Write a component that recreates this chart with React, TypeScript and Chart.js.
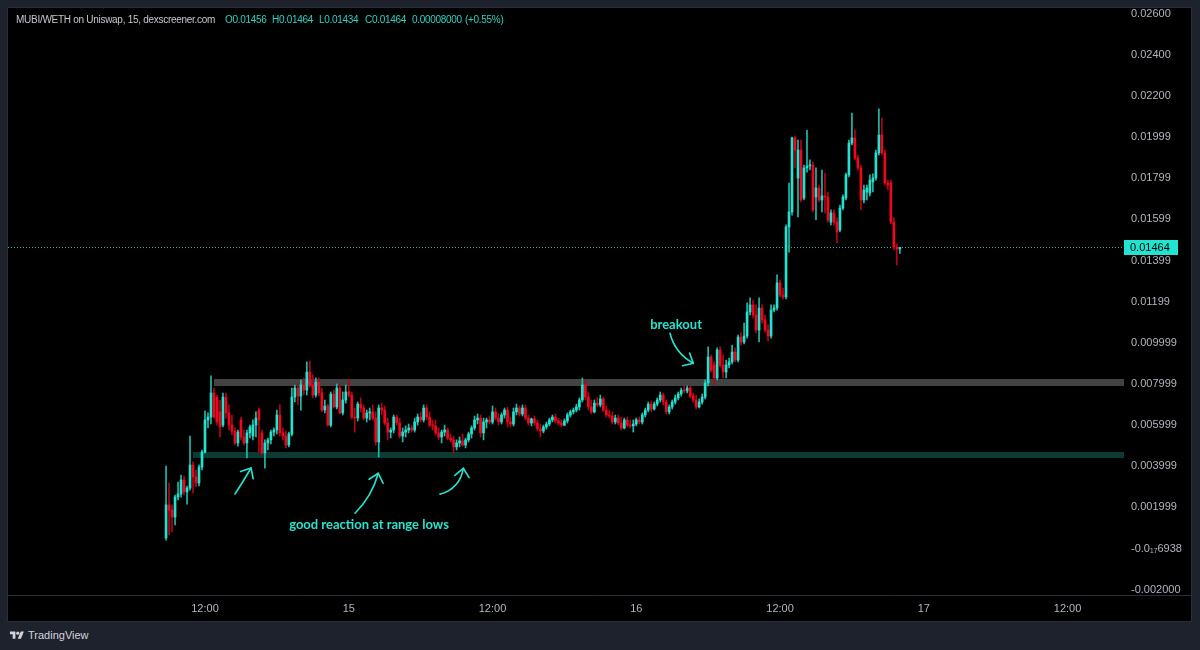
import React, { useEffect, useRef } from "react";
import { Chart, registerables } from "chart.js";
Chart.register(...registerables);

// ---- data ----
const startHour = 8.75; // first 15-minute candle, hours since day 14 00:00
const intervalHours = 0.25;

const opens = [
  0.00051, 0.00212, 0.00187, 0.00153, 0.0025, 0.00265, 0.00333, 0.00275, 0.00294, 0.00406,
  0.00348, 0.00318, 0.00396, 0.00469, 0.00625, 0.00639, 0.00756, 0.00736, 0.00664, 0.006,
  0.00736, 0.00659, 0.006, 0.00571, 0.00513, 0.00625, 0.00542, 0.00513, 0.00562, 0.00547,
  0.006, 0.00673, 0.00562, 0.00464, 0.00513, 0.00528, 0.00566, 0.00576, 0.00649, 0.00562,
  0.00547, 0.00503, 0.00557, 0.00736, 0.0078, 0.00741, 0.00795, 0.0077, 0.00858, 0.00795,
  0.00746, 0.00809, 0.00756, 0.00673, 0.00693, 0.006, 0.00751, 0.00688, 0.0078, 0.00659,
  0.00722, 0.00761, 0.00746, 0.00639, 0.00634, 0.00702, 0.00683, 0.00634, 0.00659, 0.00664,
  0.00634, 0.00518, 0.00683, 0.00673, 0.0061, 0.00566, 0.00576, 0.00639, 0.0061, 0.00547,
  0.00566, 0.00576, 0.00586, 0.00576, 0.00615, 0.00639, 0.00625, 0.00683, 0.00639, 0.006,
  0.00596, 0.00562, 0.00542, 0.00566, 0.00576, 0.00537, 0.00528, 0.00494, 0.00513, 0.00523,
  0.00503, 0.00528, 0.00557, 0.00586, 0.00625, 0.00634, 0.00562, 0.00615, 0.00625, 0.00615,
  0.00664, 0.00634, 0.00615, 0.00649, 0.00673, 0.00615, 0.00605, 0.00664, 0.00683, 0.00654,
  0.00683, 0.00634, 0.0061, 0.0063, 0.0061, 0.00581, 0.00571, 0.00591, 0.00605, 0.00625,
  0.00639, 0.0062, 0.0061, 0.006, 0.0062, 0.00649, 0.00664, 0.00673, 0.00688, 0.00722,
  0.00795, 0.00736, 0.00688, 0.00664, 0.00707, 0.00698, 0.00727, 0.00673, 0.00649, 0.00644,
  0.00615, 0.00634, 0.0061, 0.00586, 0.00625, 0.006, 0.00596, 0.00605, 0.00625, 0.00615,
  0.00649, 0.00673, 0.00702, 0.00678, 0.00702, 0.00722, 0.00746, 0.00712, 0.00664, 0.00688,
  0.00712, 0.00732, 0.00751, 0.0077, 0.00766, 0.0078, 0.00741, 0.00722, 0.00688, 0.00712,
  0.00736, 0.00805, 0.00931, 0.00892, 0.00829, 0.00965, 0.00892, 0.00858, 0.00892, 0.00907,
  0.00955, 0.00916, 0.01028, 0.01004, 0.01033, 0.0115, 0.01184, 0.01135, 0.01062, 0.01169,
  0.01111, 0.01062, 0.01033, 0.01159, 0.01169, 0.01291, 0.01232, 0.01223, 0.01563, 0.01636,
  0.01996, 0.01801, 0.01937, 0.01704, 0.0185, 0.0186, 0.01864, 0.01709, 0.01753, 0.01694,
  0.01714, 0.01709, 0.01587, 0.01631, 0.01587, 0.01548, 0.01655, 0.01704, 0.01816, 0.01971,
  0.01996, 0.01898, 0.0185, 0.01694, 0.01733, 0.01728, 0.01782, 0.01801, 0.01923, 0.0201,
  0.01923, 0.01777, 0.01777, 0.01587, 0.01466, 0.01456,
];
const highs = [
  0.00401, 0.00318, 0.00212, 0.0026, 0.00323, 0.00357, 0.00352, 0.00304, 0.00547, 0.00421,
  0.00382, 0.00406, 0.00479, 0.00668, 0.00659, 0.00839, 0.0078, 0.00746, 0.00722, 0.00756,
  0.00756, 0.00698, 0.00649, 0.00586, 0.00576, 0.00639, 0.00576, 0.00576, 0.006, 0.00625,
  0.00664, 0.00683, 0.00576, 0.00528, 0.00537, 0.00576, 0.00586, 0.00673, 0.00698, 0.00586,
  0.00571, 0.00566, 0.0078, 0.00795, 0.008, 0.00819, 0.00829, 0.00907, 0.00912, 0.00844,
  0.00829, 0.00829, 0.0078, 0.00722, 0.00702, 0.00761, 0.0077, 0.008, 0.008, 0.00761,
  0.00795, 0.00819, 0.00761, 0.00683, 0.00712, 0.00732, 0.00698, 0.00673, 0.00683, 0.00698,
  0.00664, 0.00698, 0.00707, 0.00693, 0.00634, 0.00586, 0.00649, 0.00649, 0.00634, 0.00586,
  0.00596, 0.00605, 0.006, 0.00634, 0.00654, 0.00664, 0.00698, 0.00698, 0.00664, 0.00625,
  0.00625, 0.00586, 0.00576, 0.006, 0.00586, 0.00557, 0.00547, 0.00528, 0.00542, 0.00557,
  0.00537, 0.00566, 0.00596, 0.00644, 0.00654, 0.00649, 0.00634, 0.00634, 0.00644, 0.00693,
  0.00683, 0.00654, 0.00659, 0.00683, 0.00688, 0.00639, 0.00683, 0.00702, 0.00693, 0.00698,
  0.00698, 0.00649, 0.00634, 0.00644, 0.00625, 0.00605, 0.006, 0.00615, 0.00634, 0.00649,
  0.00654, 0.00634, 0.00625, 0.0063, 0.00659, 0.00673, 0.00683, 0.00702, 0.00732, 0.00829,
  0.00819, 0.00761, 0.00722, 0.00722, 0.00732, 0.00746, 0.00736, 0.00693, 0.00673, 0.00664,
  0.00649, 0.00649, 0.00639, 0.00634, 0.00639, 0.00625, 0.00625, 0.00634, 0.00639, 0.00659,
  0.00683, 0.00712, 0.00717, 0.00712, 0.00732, 0.00761, 0.00756, 0.00722, 0.00698, 0.00722,
  0.00746, 0.00761, 0.0078, 0.0079, 0.0079, 0.0079, 0.00756, 0.00746, 0.00727, 0.00751,
  0.00819, 0.0098, 0.00941, 0.00907, 0.00975, 0.0098, 0.00941, 0.00916, 0.00926, 0.00989,
  0.00975, 0.01038, 0.01048, 0.01096, 0.01194, 0.01218, 0.01208, 0.01184, 0.01218, 0.01184,
  0.01135, 0.01087, 0.01184, 0.01184, 0.0133, 0.01305, 0.01266, 0.01573, 0.01777, 0.02,
  0.02005, 0.01986, 0.01986, 0.01864, 0.02034, 0.01889, 0.01879, 0.0185, 0.01767, 0.0184,
  0.01825, 0.01733, 0.01646, 0.01646, 0.01607, 0.0167, 0.01719, 0.01825, 0.01986, 0.02117,
  0.02034, 0.01913, 0.01864, 0.01767, 0.01767, 0.01816, 0.01821, 0.01937, 0.02137, 0.02093,
  0.01937, 0.01791, 0.01791, 0.01607, 0.0148, 0.01464,
];
const lows = [
  0.00041, 0.00066, 0.0008, 0.00114, 0.00236, 0.0025, 0.0026, 0.00216, 0.00284, 0.0027,
  0.00299, 0.00304, 0.00382, 0.00464, 0.00586, 0.00605, 0.00634, 0.006, 0.00542, 0.00591,
  0.00634, 0.00576, 0.00552, 0.00503, 0.00498, 0.00528, 0.00503, 0.0044, 0.00537, 0.00528,
  0.00542, 0.00469, 0.00455, 0.00391, 0.00479, 0.00508, 0.00547, 0.00557, 0.00547, 0.00528,
  0.00489, 0.00494, 0.00547, 0.00712, 0.00698, 0.00673, 0.00746, 0.00746, 0.00785, 0.00732,
  0.00736, 0.00741, 0.00664, 0.00659, 0.00596, 0.00591, 0.00683, 0.00678, 0.00654, 0.00649,
  0.00707, 0.00736, 0.0063, 0.00566, 0.0062, 0.00664, 0.00625, 0.00615, 0.00625, 0.00625,
  0.00503, 0.00445, 0.00649, 0.006, 0.00528, 0.00537, 0.00562, 0.006, 0.00537, 0.00518,
  0.00542, 0.00562, 0.00566, 0.00566, 0.006, 0.00615, 0.00615, 0.00625, 0.00591, 0.00576,
  0.00552, 0.00528, 0.00513, 0.00547, 0.00528, 0.00518, 0.00464, 0.00479, 0.00494, 0.00498,
  0.00489, 0.00518, 0.00537, 0.00576, 0.00605, 0.00542, 0.00528, 0.00586, 0.00605, 0.00605,
  0.00625, 0.006, 0.00605, 0.00634, 0.00591, 0.00591, 0.00596, 0.00649, 0.00644, 0.00644,
  0.00625, 0.006, 0.00596, 0.006, 0.00571, 0.00542, 0.00562, 0.00581, 0.00596, 0.00615,
  0.0061, 0.006, 0.00591, 0.00596, 0.0061, 0.00639, 0.00654, 0.00664, 0.00673, 0.00712,
  0.00722, 0.00673, 0.00654, 0.00659, 0.00688, 0.00688, 0.00664, 0.00639, 0.00634, 0.00605,
  0.00605, 0.006, 0.00576, 0.00581, 0.00591, 0.00586, 0.00566, 0.00596, 0.00605, 0.00605,
  0.00639, 0.00664, 0.00664, 0.00673, 0.00693, 0.00712, 0.00698, 0.00654, 0.00654, 0.00678,
  0.00702, 0.00722, 0.00741, 0.00756, 0.00756, 0.00732, 0.00712, 0.00678, 0.00683, 0.00702,
  0.00727, 0.0079, 0.00858, 0.00795, 0.00819, 0.00882, 0.00829, 0.00829, 0.00878, 0.00897,
  0.00907, 0.00907, 0.00989, 0.00994, 0.01023, 0.01135, 0.01121, 0.01048, 0.01004, 0.01096,
  0.01052, 0.01009, 0.01023, 0.0115, 0.01159, 0.01223, 0.01213, 0.01213, 0.01441, 0.01621,
  0.0185, 0.01612, 0.01685, 0.01694, 0.0183, 0.0184, 0.01636, 0.01597, 0.01685, 0.01636,
  0.01631, 0.01587, 0.01573, 0.01573, 0.01485, 0.01539, 0.01646, 0.01694, 0.01806, 0.01962,
  0.01889, 0.0184, 0.01646, 0.0168, 0.01694, 0.01714, 0.01733, 0.01791, 0.01913, 0.01913,
  0.01767, 0.01743, 0.01578, 0.01451, 0.01378, 0.01434,
];
const closes = [
  0.00212, 0.00187, 0.00153, 0.0025, 0.00265, 0.00333, 0.00275, 0.00294, 0.00406, 0.00348,
  0.00318, 0.00396, 0.00469, 0.00625, 0.00639, 0.00756, 0.00639, 0.00615, 0.00591, 0.00736,
  0.00659, 0.006, 0.00571, 0.00513, 0.00566, 0.00542, 0.00513, 0.00562, 0.00591, 0.006,
  0.00634, 0.00625, 0.00464, 0.00513, 0.00528, 0.00566, 0.00576, 0.00649, 0.00562, 0.00547,
  0.00503, 0.00557, 0.00736, 0.0078, 0.00741, 0.00795, 0.0077, 0.00858, 0.00795, 0.00746,
  0.00809, 0.00756, 0.00673, 0.00693, 0.006, 0.00751, 0.00688, 0.0078, 0.00659, 0.00722,
  0.00761, 0.00746, 0.00639, 0.00634, 0.00702, 0.00683, 0.00634, 0.00659, 0.00664, 0.00634,
  0.00518, 0.00683, 0.00673, 0.0061, 0.00566, 0.00576, 0.00639, 0.0061, 0.00547, 0.00566,
  0.00576, 0.00586, 0.00576, 0.00615, 0.00639, 0.00625, 0.00683, 0.00639, 0.006, 0.00596,
  0.00562, 0.00542, 0.00566, 0.00576, 0.00537, 0.00528, 0.00494, 0.00513, 0.00523, 0.00503,
  0.00528, 0.00557, 0.00586, 0.00625, 0.00634, 0.00562, 0.00615, 0.00625, 0.00615, 0.00664,
  0.00634, 0.00615, 0.00649, 0.00673, 0.00615, 0.00605, 0.00664, 0.00683, 0.00654, 0.00683,
  0.00634, 0.0061, 0.0063, 0.0061, 0.00581, 0.00571, 0.00591, 0.00605, 0.00625, 0.00639,
  0.0062, 0.0061, 0.006, 0.0062, 0.00649, 0.00664, 0.00673, 0.00688, 0.00722, 0.00795,
  0.00736, 0.00688, 0.00664, 0.00707, 0.00698, 0.00727, 0.00673, 0.00649, 0.00644, 0.00615,
  0.00634, 0.0061, 0.00586, 0.00625, 0.006, 0.00596, 0.00605, 0.00625, 0.00615, 0.00649,
  0.00673, 0.00702, 0.00678, 0.00702, 0.00722, 0.00746, 0.00712, 0.00664, 0.00688, 0.00712,
  0.00732, 0.00751, 0.0077, 0.00766, 0.0078, 0.00741, 0.00722, 0.00688, 0.00712, 0.00736,
  0.00805, 0.00931, 0.00868, 0.00829, 0.00965, 0.00892, 0.00858, 0.00892, 0.00907, 0.00955,
  0.00916, 0.01028, 0.01004, 0.01033, 0.0115, 0.01184, 0.01135, 0.01062, 0.01169, 0.01111,
  0.01062, 0.01033, 0.01159, 0.01169, 0.01291, 0.01232, 0.01223, 0.01563, 0.01636, 0.01996,
  0.01937, 0.01937, 0.01694, 0.0185, 0.0186, 0.01864, 0.01646, 0.01753, 0.01694, 0.01714,
  0.01709, 0.01597, 0.01631, 0.01587, 0.01539, 0.01655, 0.01709, 0.01816, 0.01971, 0.01996,
  0.01898, 0.0185, 0.01694, 0.01743, 0.01753, 0.01791, 0.01801, 0.01923, 0.0201, 0.01923,
  0.01777, 0.01767, 0.01587, 0.01466, 0.01456, 0.01464,
];

const priceTicks = [0.026, 0.024, 0.022, 0.02, 0.018, 0.016, 0.014, 0.012, 0.01, 0.008, 0.006, 0.004, 0.002, 0, -0.002];
const priceTickLabels = [
  "0.02600", "0.02400", "0.02200", "0.01999", "0.01799", "0.01599", "0.01399", "0.01199",
  "0.009999", "0.007999", "0.005999", "0.003999", "0.001999", "-0.0\u2081\u20876938", "-0.002000",
];
const timeTicks = [12, 24, 36, 48, 60, 72, 84];
const timeTickLabels = ["12:00", "15", "12:00", "16", "12:00", "17", "12:00"];

const headerTitle = "MUBI/WETH on Uniswap, 15, dexscreener.com";

// drawings (hours, price)
const resistanceBand = { fromHour: 12.75, top: 0.00824, bottom: 0.0079 };
const supportBand = { fromHour: 11.0, top: 0.00469, bottom: 0.0044 };
const noteTexts = [
  { text: "breakout", hour: 51.32, price: 0.010866 },
  { text: "good reaction at range lows", hour: 25.69, price: 0.001142 },
];
const noteArrows = [
  { tail: [14.504, 0.00265], ctrl: [15.172, 0.003233], tip: [15.84, 0.003913] },
  { tail: [24.521, 0.001711], ctrl: [25.915, 0.002518], tip: [26.466, 0.003656] },
  { tail: [31.616, 0.002635], ctrl: [33.285, 0.002927], tip: [33.561, 0.003899] },
  { tail: [50.815, 0.010462], ctrl: [51.232, 0.00949], tip: [52.76, 0.009003] },
];

// ---- styles ----
const UP = "#22e3cf";
const DOWN = "#f0061e";
const WICK_UP = "#1dbcab";
const WICK_DOWN = "#b80218";
const ACCENT = "#27e3cf";
const AXIS_TEXT = "#b2b5be";
const LINE = "#2a2e39";

const X_MIN = -4.444;
const X_MAX = 88.711;
const Y_MIN = -0.002261;
const Y_MAX = 0.026276;

const overlayPlugin = {
  id: "overlay",
  beforeDatasetsDraw(chart: any) {
    const { ctx, chartArea, scales } = chart;
    const xs = scales.x;
    const ys = scales.y;
    ctx.save();
    ctx.beginPath();
    ctx.rect(chartArea.left, chartArea.top, chartArea.right - chartArea.left, chartArea.bottom - chartArea.top);
    ctx.clip();
    const bands = [
      { b: resistanceBand, color: "#434343" },
      { b: supportBand, color: "#0b3b34" },
    ];
    for (const { b, color } of bands) {
      const x0 = xs.getPixelForValue(b.fromHour);
      const y0 = ys.getPixelForValue(b.top);
      const y1 = ys.getPixelForValue(b.bottom);
      ctx.fillStyle = color;
      ctx.fillRect(x0, y0, chartArea.right - x0, y1 - y0);
    }
    const py = Math.round(ys.getPixelForValue(closes[closes.length - 1])) + 0.5;
    ctx.strokeStyle = "#1fb3a4";
    ctx.lineWidth = 1;
    ctx.setLineDash([1, 2]);
    ctx.beginPath();
    ctx.moveTo(chartArea.left, py);
    ctx.lineTo(chartArea.right, py);
    ctx.stroke();
    ctx.restore();
  },
  afterDatasetsDraw(chart: any) {
    const { ctx, scales } = chart;
    const xs = scales.x;
    const ys = scales.y;
    ctx.save();
    ctx.strokeStyle = ACCENT;
    ctx.lineWidth = 1.6;
    ctx.lineCap = "round";
    ctx.lineJoin = "round";
    for (const a of noteArrows) {
      const t = [xs.getPixelForValue(a.tail[0]), ys.getPixelForValue(a.tail[1])];
      const c = [xs.getPixelForValue(a.ctrl[0]), ys.getPixelForValue(a.ctrl[1])];
      const p = [xs.getPixelForValue(a.tip[0]), ys.getPixelForValue(a.tip[1])];
      ctx.beginPath();
      ctx.moveTo(t[0], t[1]);
      ctx.quadraticCurveTo(c[0], c[1], p[0], p[1]);
      ctx.stroke();
      const ang = Math.atan2(p[1] - c[1], p[0] - c[0]);
      ctx.beginPath();
      for (const s of [-1, 1]) {
        const a2 = ang + Math.PI + s * 0.72;
        ctx.moveTo(p[0], p[1]);
        ctx.lineTo(p[0] + 11 * Math.cos(a2), p[1] + 11 * Math.sin(a2));
      }
      ctx.stroke();
    }
    ctx.fillStyle = ACCENT;
    ctx.font = "bold 13px Lato";
    ctx.textAlign = "center";
    ctx.textBaseline = "middle";
    for (const n of noteTexts) {
      ctx.fillText(n.text, xs.getPixelForValue(n.hour), ys.getPixelForValue(n.price));
    }
    ctx.restore();
  },
  afterDraw(chart: any) {
    const { ctx, chartArea, scales } = chart;
    const ys = scales.y;
    ctx.save();
    ctx.strokeStyle = LINE;
    ctx.lineWidth = 1;
    ctx.beginPath();
    ctx.moveTo(0, Math.round(chartArea.bottom) + 0.5);
    ctx.lineTo(chart.width, Math.round(chartArea.bottom) + 0.5);
    ctx.stroke();
    const last = closes[closes.length - 1];
    const py = Math.round(ys.getPixelForValue(last));
    ctx.fillStyle = UP;
    ctx.fillRect(chartArea.right, py - 7, 54, 15);
    ctx.fillStyle = "#000";
    ctx.font = "11px 'Liberation Sans'";
    ctx.textAlign = "left";
    ctx.textBaseline = "middle";
    ctx.fillText(last.toFixed(5), chartArea.right + 6, py + 1);
    ctx.restore();
  },
};

export default function App() {
  const canvasRef = useRef<HTMLCanvasElement | null>(null);

  useEffect(() => {
    document.body.style.margin = "0";
    document.body.style.background = "#1e222d";
    const canvas = canvasRef.current;
    if (!canvas) return;
    const times = opens.map((_, i) => startHour + i * intervalHours);
    const up = closes.map((c, i) => c >= opens[i]);
    const bodyData = times.map((t, i) => ({ x: t, y: [opens[i], closes[i]] }));
    const wickData = times.map((t, i) => ({ x: t, y: [lows[i], highs[i]] }));

    const chart = new Chart(canvas, {
      type: "bar",
      data: {
        datasets: [
          {
            data: wickData as any,
            backgroundColor: up.map((u) => (u ? WICK_UP : WICK_DOWN)),
            borderWidth: 0,
            barThickness: 1,
            grouped: false,
            order: 2,
          } as any,
          {
            data: bodyData as any,
            backgroundColor: up.map((u) => (u ? UP : DOWN)),
            borderWidth: 0,
            barThickness: 2,
            minBarLength: 1,
            grouped: false,
            order: 1,
          } as any,
        ],
      },
      options: {
        animation: false,
        responsive: false,
        maintainAspectRatio: false,
        events: [],
        layout: { padding: 0 },
        plugins: { legend: { display: false }, tooltip: { enabled: false } },
        scales: {
          x: {
            type: "linear",
            min: X_MIN,
            max: X_MAX,
            offset: false,
            grid: { display: false, drawTicks: false, offset: false },
            border: { display: false },
            ticks: {
              color: AXIS_TEXT,
              font: { family: "'Liberation Sans'", size: 11 },
              padding: 7,
              maxRotation: 0,
              autoSkip: false,
              callback: (v: any) => {
                const i = timeTicks.findIndex((t) => Math.abs(t - Number(v)) < 1e-6);
                return i >= 0 ? timeTickLabels[i] : "";
              },
            },
            afterBuildTicks: (s: any) => {
              s.ticks = timeTicks.map((v) => ({ value: v }));
            },
            afterFit: (s: any) => {
              s.height = 26;
              s.paddingLeft = 0;
              s.paddingRight = 0;
            },
          },
          y: {
            type: "linear",
            position: "right",
            min: Y_MIN,
            max: Y_MAX,
            beginAtZero: false,
            grid: { display: false, drawTicks: false },
            border: { display: false },
            ticks: {
              color: AXIS_TEXT,
              font: { family: "'Liberation Sans'", size: 11 },
              padding: 7,
              callback: (v: any) => {
                const i = priceTicks.findIndex((t) => Math.abs(t - Number(v)) < 1e-9);
                return i >= 0 ? priceTickLabels[i] : "";
              },
            },
            afterBuildTicks: (s: any) => {
              s.ticks = priceTicks.map((v) => ({ value: v }));
            },
            afterFit: (s: any) => {
              s.width = 67;
              s.paddingTop = 0;
              s.paddingBottom = 0;
            },
          },
        },
      } as any,
      plugins: [overlayPlugin],
    });
    return () => chart.destroy();
  }, []);

  const n = closes.length;
  const change = closes[n - 1] - closes[n - 2];
  const pct = (change / closes[n - 2]) * 100;
  const ohlcParts = [
    "O" + opens[n - 1].toFixed(5),
    "H" + highs[n - 1].toFixed(5),
    "L" + lows[n - 1].toFixed(5),
    "C" + closes[n - 1].toFixed(5),
    change.toFixed(8),
    "(" + (pct >= 0 ? "+" : "") + pct.toFixed(2) + "%)",
  ];
  const ohlcLefts = [225, 272, 319, 365, 412, 465];

  return (
    <div
      style={{
        position: "relative",
        width: 1200,
        height: 650,
        background: "#1e222d",
        overflow: "hidden",
        fontFamily: "'Liberation Sans', sans-serif",
      }}
    >
      <div
        style={{
          position: "absolute",
          left: 8,
          top: 8,
          width: 1183,
          height: 613,
          background: "#000",
          outline: "1px solid #2a2e39",
        }}
      >
        <canvas ref={canvasRef} width={1183} height={613} style={{ display: "block", width: 1183, height: 613 }} />
      </div>
      <div
        style={{
          position: "absolute",
          left: 16,
          top: 13,
          fontSize: 10,
          letterSpacing: "-0.28px",
          lineHeight: "13px",
          color: "#c3c6cd",
          whiteSpace: "nowrap",
        }}
      >
        {headerTitle}
      </div>
      {ohlcParts.map((p, i) => (
        <div
          key={i}
          style={{
            position: "absolute",
            left: ohlcLefts[i],
            top: 13,
            fontSize: 10,
            letterSpacing: "-0.3px",
            lineHeight: "13px",
            color: "#2ad2c2",
            whiteSpace: "nowrap",
          }}
        >
          {p}
        </div>
      ))}
      <svg
        style={{ position: "absolute", left: 9, top: 630 }}
        width={16}
        height={11}
        viewBox="0 0 36 28"
      >
        <path d="M14 22H7V11H0V4h14v18z" fill="#d1d4dc" />
        <circle cx="20" cy="8" r="4" fill="#d1d4dc" />
        <path d="M28 22h-8l7.5-18h8L28 22z" fill="#d1d4dc" />
      </svg>
      <div
        style={{
          position: "absolute",
          left: 28,
          top: 628,
          fontSize: 11,
          lineHeight: "14px",
          color: "#d1d4dc",
          whiteSpace: "nowrap",
        }}
      >
        TradingView
      </div>
    </div>
  );
}
